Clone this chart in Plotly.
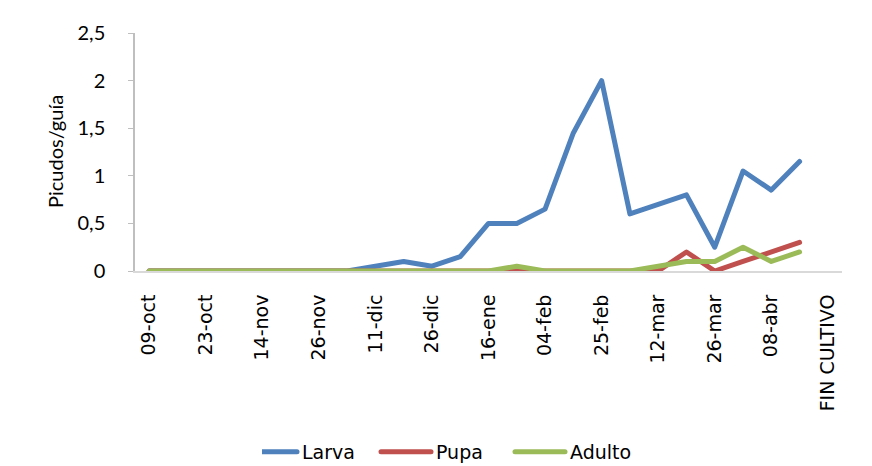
import plotly.graph_objects as go

# ---- data ----
n_cat = 25
tick_positions = list(range(0, 25, 2))
tick_labels = ["09-oct", "23-oct", "14-nov", "26-nov", "11-dic", "26-dic", "16-ene",
               "04-feb", "25-feb", "12-mar", "26-mar", "08-abr", "FIN CULTIVO"]
larva = [0, 0, 0, 0, 0, 0, 0, 0, 0.05, 0.1, 0.05, 0.15, 0.5, 0.5, 0.65, 1.45, 2.0,
         0.6, 0.7, 0.8, 0.25, 1.05, 0.85, 1.15, None]
pupa = [0, 0, 0, 0, 0, 0, 0, 0, 0, 0, 0, 0, 0, 0, 0, 0, 0,
        0, 0, 0.2, 0, 0.1, 0.2, 0.3, None]
adulto = [0, 0, 0, 0, 0, 0, 0, 0, 0, 0, 0, 0, 0, 0.05, 0, 0, 0,
          0, 0.05, 0.1, 0.1, 0.25, 0.1, 0.2, None]
series = [("Larva", larva, "#4F81BD"), ("Pupa", pupa, "#C0504D"), ("Adulto", adulto, "#9BBB59")]

x = list(range(n_cat))
FONT = "Lato, 'Open Sans', sans-serif"
FONT2 = "'DejaVu Sans', sans-serif"

L, R, T, B = 135, 30, 33, 195
PW, PH = 872 - L - R, 466 - T - B

fig = go.Figure()
for name, vals, color in series:
    fig.add_trace(go.Scatter(x=x, y=vals, name=name, mode="lines",
                             line=dict(color=color, width=5)))

fig.update_layout(
    width=872, height=466,
    margin=dict(l=L, r=R, t=T, b=B, autoexpand=False),
    paper_bgcolor="white", plot_bgcolor="white",
    separators=", ",
    font=dict(family=FONT, size=20, color="#000000"),
    showlegend=True,
    legend=dict(orientation="h", xref="paper", x=(262 - L) / PW, xanchor="left",
                yref="paper", y=-(452 - (T + PH)) / PH, yanchor="middle",
                font=dict(family=FONT2, size=19),
                entrywidth=89, entrywidthmode="pixels", tracegroupgap=0),
    xaxis=dict(range=[-0.5, n_cat - 0.5], tickmode="array", tickvals=tick_positions,
               ticktext=tick_labels, tickangle=-90, showgrid=False, zeroline=False,
               showline=True, linecolor="#D9D9D9", linewidth=2,
               ticks="outside", ticklen=14, tickcolor="rgba(0,0,0,0)",
               tickfont=dict(family=FONT2, size=19), automargin=False),
    yaxis=dict(range=[0, 2.5], dtick=0.5, showgrid=False, zeroline=False,
               showline=True, linecolor="#BFBFBF", linewidth=1.5,
               ticks="outside", ticklen=5, tickcolor="#BFBFBF",
               ticklabelstandoff=19, tickfont=dict(size=20), automargin=False),
    annotations=[dict(text="Picudos/guía", textangle=-90, xref="paper", yref="paper",
                      x=(55 - L) / PW, y=(T + PH - 152) / PH, showarrow=False,
                      font=dict(size=20), xanchor="center", yanchor="middle")],
)

post = """
document.body.style.margin='0';document.body.style.padding='0';
document.querySelectorAll('.legendlines path').forEach(function(p){
  p.setAttribute('d','M-15,0h50');
  p.style.strokeLinecap='round';
  p.style.strokeWidth='5px';
});
document.querySelectorAll('.scatterlayer .js-line').forEach(function(p){
  p.style.strokeLinejoin='round';
  p.style.strokeLinecap='round';
});
"""

fig.write_html("out.html", post_script=post, config={"displayModeBar": False})
